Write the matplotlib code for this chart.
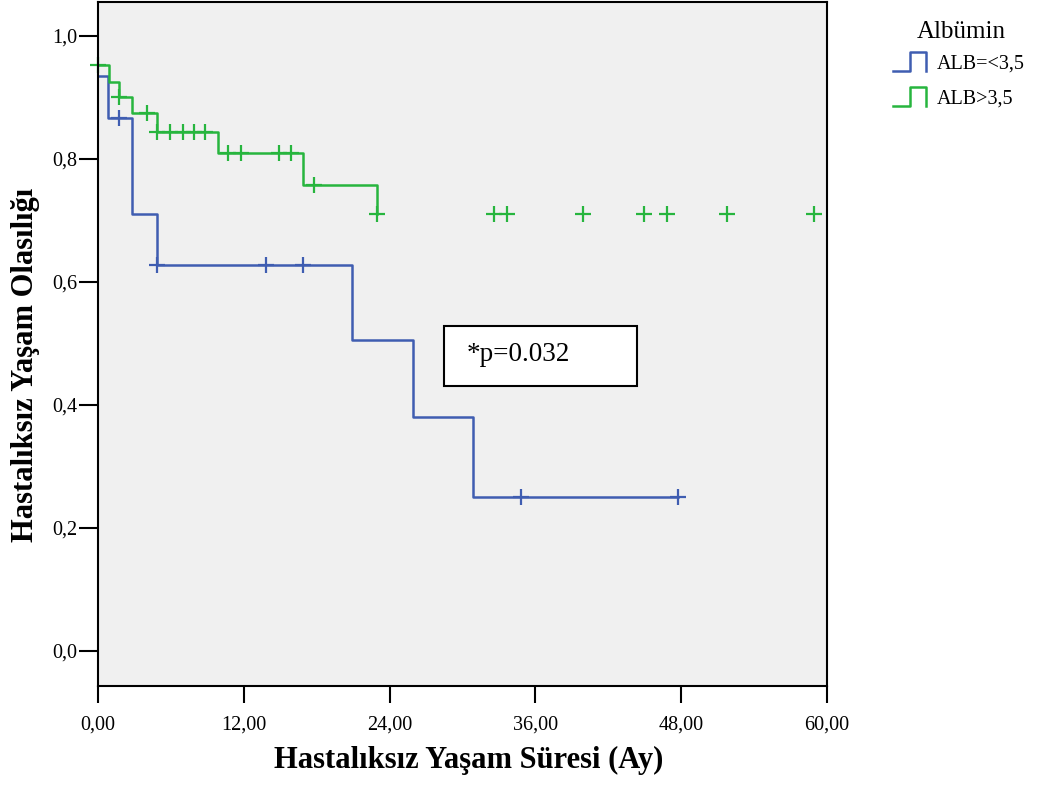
import numpy as np
import matplotlib
matplotlib.use('Agg')
import matplotlib.pyplot as plt
from matplotlib.lines import Line2D
from matplotlib.patches import Rectangle
from matplotlib.legend_handler import HandlerBase

plt.rcParams['font.family'] = ['Liberation Serif', 'DejaVu Serif']

# Kaplan-Meier steps (months, survival)
blue_t = [0, 0.85, 2.8, 4.85, 20.9, 25.9, 30.9, 47.7]
blue_s = [0.935, 0.867, 0.71, 0.628, 0.506, 0.38, 0.25, 0.25]
blue_cens = [1.7, 4.85, 13.8, 16.85, 34.8, 47.7]

green_t = [0, 0.9, 1.7, 2.8, 4.85, 9.9, 16.85, 23.0]
green_s = [0.953, 0.925, 0.90, 0.875, 0.844, 0.81, 0.758, 0.71]
green_cens = [0, 1.7, 4.0, 4.85, 5.9, 7.0, 7.9, 8.8, 10.7, 11.8, 14.9, 15.9,
              17.75, 23.0, 32.6, 33.7, 39.9, 44.9, 46.8, 51.8, 58.9]

labels = ['ALB=<3,5', 'ALB>3,5']
colors = ['#3f5db1', '#27b53e']
x_ticks = [0, 12, 24, 36, 48, 60]
y_ticks = [0.0, 0.2, 0.4, 0.6, 0.8, 1.0]
p_text = '*p=0.032'


def surv_at(t_steps, s_steps, times):
    # value of the step curve at each censor time
    idx = np.searchsorted(t_steps, times, side='right') - 1
    return np.array(s_steps)[idx]


class StepHandler(HandlerBase):
    def create_artists(self, legend, orig_handle, xdescent, ydescent,
                       width, height, fontsize, trans):
        xs = np.array([0, 0.5, 0.5, 1, 1]) * width - xdescent
        ys = np.array([0, 0, 1, 1, 0]) * height - ydescent
        ln = Line2D(xs, ys, color=orig_handle.get_color(), lw=1.8,
                    transform=trans)
        return [ln]


fig = plt.figure(figsize=(10.37, 7.89), dpi=100)
ax = fig.add_axes([98/1037, 1 - 686/789, 729/1037, 684/789])
ax.set_facecolor('#f0f0f0')

handles = []
for t, s, c, col, lab in [(blue_t, blue_s, blue_cens, colors[0], labels[0]),
                          (green_t, green_s, green_cens, colors[1], labels[1])]:
    h, = ax.step(t, s, where='post', color=col, lw=1.8, label=lab)
    ax.plot(c, surv_at(t, s, c), ls='none', marker='+', ms=11, mew=1.6,
            color=col, clip_on=False)
    handles.append(h)

ax.set_xlim(0, 60)
ax.set_ylim(-0.057, 1.055)
ax.set_xticks(x_ticks)
ax.set_xticklabels([f'{v:.2f}'.replace('.', ',') for v in x_ticks])
ax.set_yticks(y_ticks)
ax.set_yticklabels([f'{v:.1f}'.replace('.', ',') for v in y_ticks])
ax.tick_params(axis='y', length=13.7, width=1.5, pad=1, labelsize=14.5)
ax.tick_params(axis='x', length=12, width=1.5, pad=9, labelsize=14.5)
for sp in ax.spines.values():
    sp.set_linewidth(1.5)

ax.set_xlabel('Hastalıksız Yaşam Süresi (Ay)', fontsize=22, fontweight='bold')
ax.xaxis.set_label_coords(0.508, -0.088)
ax.set_ylabel('Hastalıksız Yaşam Olasılığı', fontsize=22, fontweight='bold')
ax.yaxis.set_label_coords(-0.08, 0.47)

# p value box
ax.add_patch(Rectangle((0.4746, 0.4386), 0.2644, 0.0874, transform=ax.transAxes,
                       facecolor='white', edgecolor='black', lw=1.5, zorder=5))
ax.text(0.506, 0.484, p_text, transform=ax.transAxes, fontsize=19.5,
        va='center', ha='left', zorder=6)

fig.text(961/1037, 1 - 32/789, 'Albümin', fontsize=18, ha='center',
         va='center')
fig.legend(handles=handles, labels=labels, loc='upper left',
           bbox_to_anchor=(883/1037, 1 - 42/789), frameon=False,
           fontsize=14.5, borderpad=0,
           handlelength=1.65, handleheight=1.05, handletextpad=0.5,
           labelspacing=0.7, handler_map={Line2D: StepHandler()})

fig.savefig('out.png', dpi=100)
